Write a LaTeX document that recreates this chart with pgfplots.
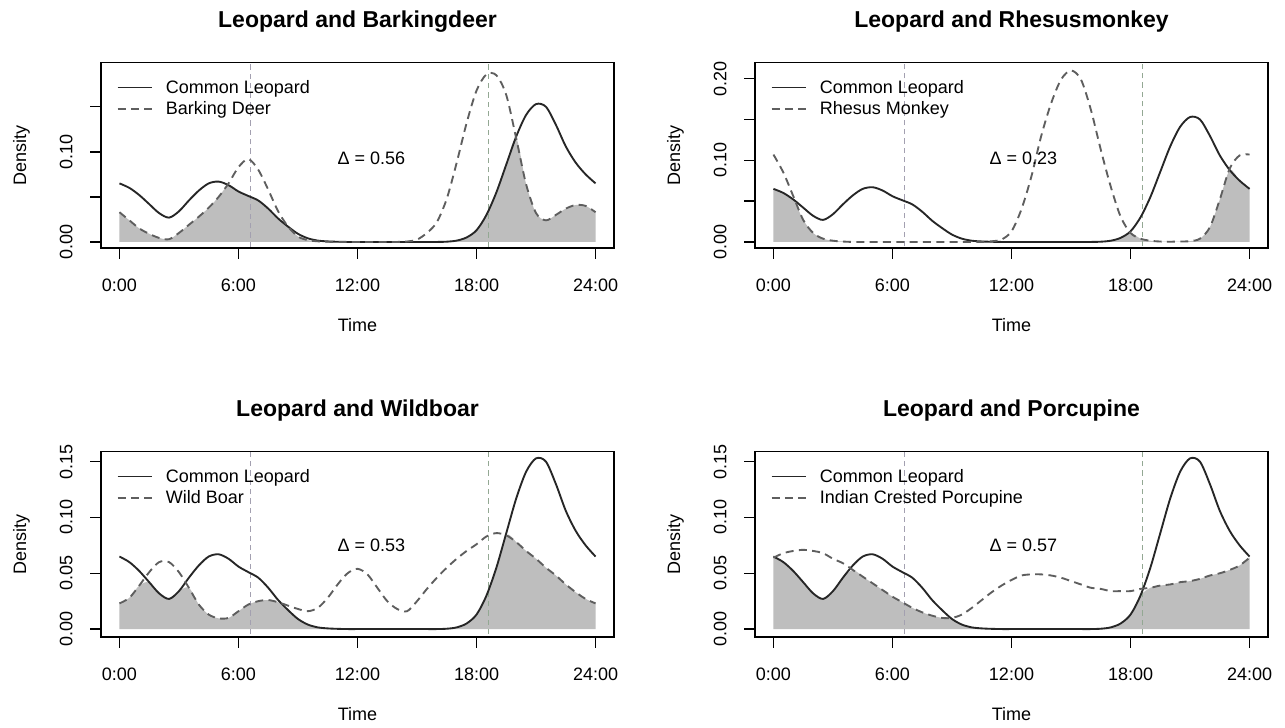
\documentclass[border=0pt]{standalone}
\usepackage{fontspec}
\setmainfont{Liberation Sans}
\setsansfont{Liberation Sans}
\usepackage{pgfplots}
\usepackage{pgfplotstable}
\pgfplotsset{compat=1.18}

\definecolor{leocol}{HTML}{262626}
\definecolor{preycol}{HTML}{5E5E5E}
\definecolor{overlap}{HTML}{BEBEBE}
\definecolor{sunrise}{HTML}{A3A0B0}
\definecolor{sunset}{HTML}{93A893}

% kernel density of activity (time in hours, density per hour)
\pgfplotstableread{
t    leo     deer    rhes    boar    porc
0    0.065   0.033   0.107   0.023   0.064
0.5  0.060   0.024   0.085   0.028   0.068
1    0.052   0.015   0.056   0.039   0.070
1.5  0.042   0.009   0.027   0.051   0.071
2    0.032   0.0045  0.011   0.060   0.070
2.5  0.027   0.003   0.004   0.060   0.068
3    0.034   0.010   0.0015  0.051   0.063
3.5  0.046   0.019   0.0005  0.037   0.059
4    0.057   0.028   0       0.022   0.053
4.5  0.065   0.038   0       0.013   0.047
5    0.067   0.050   0       0.0096  0.041
5.5  0.063   0.065   0       0.010   0.035
6    0.056   0.083   0       0.016   0.029
6.5  0.051   0.092   0       0.022   0.024
7    0.046   0.080   0       0.025   0.019
7.5  0.037   0.058   0       0.026   0.015
8    0.026   0.034   0       0.024   0.012
8.5  0.017   0.017   0       0.021   0.010
9    0.009   0.006   0       0.018   0.010
9.5  0.004   0.002   0       0.016   0.013
10   0.0015  0.0007  0       0.019   0.019
10.5 0.0006  0.0002  0       0.028   0.026
11   0.0002  0       0.0008  0.040   0.033
11.5 0       0       0.003   0.050   0.039
12   0       0       0.013   0.054   0.044
12.5 0       0       0.040   0.049   0.048
13   0       0       0.080   0.037   0.049
13.5 0       0       0.130   0.025   0.049
14   0       0       0.170   0.018   0.048
14.5 0       0.0005  0.199   0.016   0.046
15   0       0.0026  0.210   0.025   0.043
15.5 0       0.010   0.199   0.036   0.040
16   0       0.022   0.162   0.046   0.037
16.5 0.0003  0.048   0.113   0.055   0.036
17   0.0015  0.088   0.068   0.063   0.034
17.5 0.005   0.132   0.031   0.070   0.034
18   0.013   0.168   0.011   0.076   0.034
18.5 0.030   0.186   0.004   0.083   0.036
19   0.055   0.185   0.0015  0.086   0.037
19.5 0.086   0.163   0.0005  0.084   0.039
20   0.117   0.115   0.0003  0.078   0.040
20.5 0.141   0.064   0.0005  0.070   0.042
21   0.153   0.032   0.001   0.063   0.043
21.5 0.150   0.024   0.004   0.055   0.045
22   0.130   0.030   0.018   0.048   0.048
22.5 0.106   0.037   0.052   0.040   0.050
23   0.088   0.041   0.090   0.033   0.053
23.5 0.075   0.040   0.106   0.027   0.057
24   0.065   0.033   0.107   0.023   0.064
}\activity

\newcommand{\basefont}{\fontsize{13.5}{16}\selectfont}

\pgfplotsset{
  actplot/.style={
    scale only axis,
    width=384.75pt, height=139pt,
    xmin=-0.93, xmax=24.93,
    xtick={0,6,12,18,24},
    xticklabels={0:00,6:00,12:00,18:00,24:00},
    xtick pos=bottom, ytick pos=left,
    tick align=outside,
    major tick length=8pt,
    tick style={black, line width=1pt},
    axis line style={black, line width=1.1pt},
    font=\basefont,
    title style={font=\bfseries\fontsize{17.25}{20}\selectfont,
                 at={(0.5,1)}, anchor=base, yshift=20pt},
    xticklabel style={anchor=base, yshift=-24.5pt},
    yticklabel style={xshift=-13.1pt, rotate=90, anchor=south, inner sep=0pt},
    xlabel={Time}, ylabel={Density},
    xlabel style={at={(axis description cs:0.5,-0.415)}, anchor=center},
    ylabel style={at={(axis description cs:-0.155,0.5)}, anchor=center},
    legend style={draw=none, fill=none, font=\basefont,
                  at={(axis description cs:0.03,0.915)}, anchor=north west,
                  inner sep=0pt, row sep=3pt, /tikz/column sep=9pt,
                  nodes={inner sep=1pt}},
    legend cell align=left,
    legend image code/.code={\draw[##1] (0pt,0pt) -- (25.5pt,0pt);},
  },
  leopard/.style={leocol, line width=1.4pt, smooth},
  prey/.style={preycol, line width=1.4pt, dash pattern=on 6pt off 4pt, smooth},
  shade/.style={fill=overlap, draw=none, forget plot, smooth},
  dawn/.style={sunrise, line width=0.8pt, dash pattern=on 4pt off 3pt, forget plot},
  dusk/.style={sunset, line width=0.8pt, dash pattern=on 4pt off 3pt, forget plot},
}

\begin{document}
\begin{tikzpicture}
\fill[white] (0pt,0pt) rectangle (963.75pt,546pt);
\path[use as bounding box] (0pt,0pt) rectangle (963.75pt,546pt);

% leopard vs barking deer
\begin{axis}[actplot, at={(75.75pt,360pt)}, anchor=south west,
  title={Leopard and Barkingdeer},
  ymin=-0.0067, ymax=0.199,
  ytick={0,0.05,0.10,0.15}, yticklabels={0.00,{},0.10,{}}]
  \addplot[shade] table[x=t, y expr={min(\thisrow{leo},\thisrow{deer})}] {\activity} \closedcycle;
  \addplot[dawn] coordinates {(6.6,-1) (6.6,1)};
  \addplot[dusk] coordinates {(18.6,-1) (18.6,1)};
  \addplot[leopard] table[x=t, y=leo] {\activity};
  \addlegendentry{Common Leopard}
  \addplot[prey] table[x=t, y=deer] {\activity};
  \addlegendentry{Barking Deer}
  \node at (axis cs:12.7,0.093) {Δ = 0.56};
\end{axis}

% leopard vs rhesus monkey
\begin{axis}[actplot, at={(566.25pt,360pt)}, anchor=south west,
  title={Leopard and Rhesusmonkey},
  ymin=-0.0074, ymax=0.2196,
  ytick={0,0.05,0.10,0.15,0.20}, yticklabels={0.00,{},0.10,{},0.20}]
  \addplot[shade] table[x=t, y expr={min(\thisrow{leo},\thisrow{rhes})}] {\activity} \closedcycle;
  \addplot[dawn] coordinates {(6.6,-1) (6.6,1)};
  \addplot[dusk] coordinates {(18.6,-1) (18.6,1)};
  \addplot[leopard] table[x=t, y=leo] {\activity};
  \addlegendentry{Common Leopard}
  \addplot[prey] table[x=t, y=rhes] {\activity};
  \addlegendentry{Rhesus Monkey}
  \node at (axis cs:12.6,0.103) {Δ = 0.23};
\end{axis}

% leopard vs wild boar
\begin{axis}[actplot, at={(75.75pt,68.25pt)}, anchor=south west,
  title={Leopard and Wildboar},
  ymin=-0.0071, ymax=0.159,
  ytick={0,0.05,0.10,0.15}, yticklabels={0.00,0.05,0.10,0.15}]
  \addplot[shade] table[x=t, y expr={min(\thisrow{leo},\thisrow{boar})}] {\activity} \closedcycle;
  \addplot[dawn] coordinates {(6.6,-1) (6.6,1)};
  \addplot[dusk] coordinates {(18.6,-1) (18.6,1)};
  \addplot[leopard] table[x=t, y=leo] {\activity};
  \addlegendentry{Common Leopard}
  \addplot[prey] table[x=t, y=boar] {\activity};
  \addlegendentry{Wild Boar}
  \node at (axis cs:12.7,0.075) {Δ = 0.53};
\end{axis}

% leopard vs porcupine
\begin{axis}[actplot, at={(566.25pt,68.25pt)}, anchor=south west,
  title={Leopard and Porcupine},
  ymin=-0.0071, ymax=0.159,
  ytick={0,0.05,0.10,0.15}, yticklabels={0.00,0.05,0.10,0.15}]
  \addplot[shade] table[x=t, y expr={min(\thisrow{leo},\thisrow{porc})}] {\activity} \closedcycle;
  \addplot[dawn] coordinates {(6.6,-1) (6.6,1)};
  \addplot[dusk] coordinates {(18.6,-1) (18.6,1)};
  \addplot[leopard] table[x=t, y=leo] {\activity};
  \addlegendentry{Common Leopard}
  \addplot[prey] table[x=t, y=porc] {\activity};
  \addlegendentry{Indian Crested Porcupine}
  \node at (axis cs:12.6,0.075) {Δ = 0.57};
\end{axis}
\end{tikzpicture}
\end{document}
